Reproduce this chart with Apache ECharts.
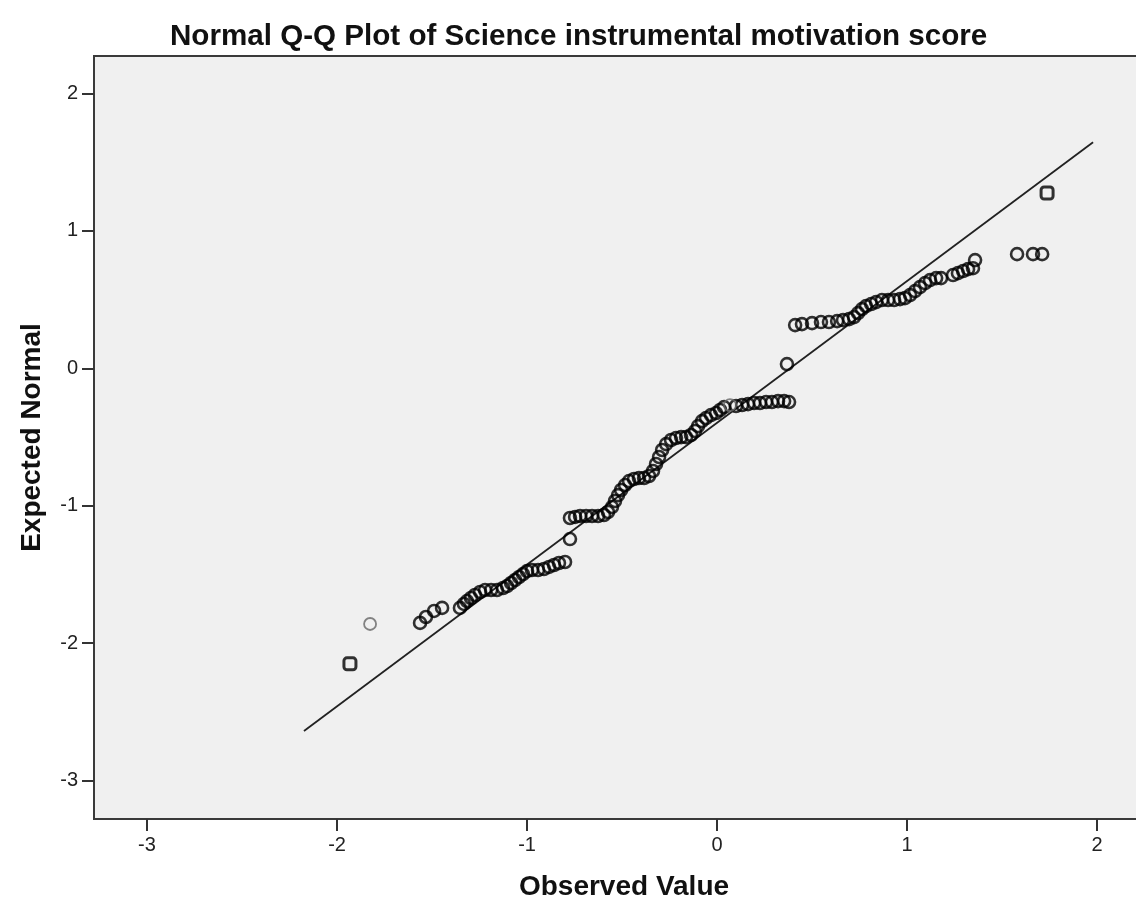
<!DOCTYPE html>
<html>
<head>
<meta charset="utf-8">
<script src="https://cdn.jsdelivr.net/npm/echarts@6/dist/echarts.min.js"></script>
<style>
  html, body { margin: 0; padding: 0; background: #ffffff; }
  #chart { width: 1136px; height: 900px; }
</style>
</head>
<body>
<div id="chart"></div>
<script>
// Observed standardized scores and their expected normal quantiles
const observed = [
  -1.563, -1.532, -1.489, -1.447,
  -1.353, -1.332, -1.316, -1.295, -1.274, -1.247, -1.221, -1.189, -1.158, -1.126,
  -1.105, -1.084, -1.063, -1.042, -1.021, -1.000, -0.974, -0.942, -0.911, -0.884,
  -0.858, -0.832, -0.800,
  -0.774,
  -0.774, -0.747, -0.721, -0.689, -0.658, -0.626, -0.595, -0.574,
  -0.553, -0.537, -0.521, -0.505, -0.484, -0.463, -0.437, -0.411, -0.384, -0.358,
  -0.337, -0.321, -0.305, -0.289, -0.268, -0.242, -0.216, -0.189, -0.163, -0.137,
  -0.116, -0.100, -0.079, -0.058, -0.032, -0.005, 0.016, 0.037,
  0.100, 0.132, 0.163, 0.195, 0.226, 0.258, 0.289, 0.321, 0.353, 0.379,
  0.368,
  0.411, 0.447, 0.500, 0.547, 0.589, 0.632, 0.663, 0.695, 0.721, 0.742, 0.763,
  0.784, 0.811, 0.837, 0.868, 0.900, 0.932, 0.963, 0.989, 1.016, 1.042, 1.068,
  1.095, 1.121, 1.153, 1.179, 1.242, 1.268, 1.295, 1.321, 1.347, 1.358,
  1.579, 1.663, 1.711
];
const expected = [
  -1.852, -1.809, -1.765, -1.743,
  -1.743, -1.714, -1.693, -1.671, -1.649, -1.627, -1.613, -1.613, -1.613, -1.598,
  -1.584, -1.562, -1.540, -1.518, -1.497, -1.475, -1.467, -1.467, -1.460, -1.445,
  -1.431, -1.416, -1.409,
  -1.242,
  -1.089, -1.081, -1.074, -1.074, -1.074, -1.074, -1.067, -1.045,
  -1.009, -0.965, -0.922, -0.885, -0.849, -0.820, -0.805, -0.798, -0.798, -0.783,
  -0.747, -0.696, -0.645, -0.594, -0.551, -0.521, -0.507, -0.500, -0.500, -0.485,
  -0.456, -0.420, -0.384, -0.362, -0.340, -0.325, -0.303, -0.282,
  -0.274, -0.267, -0.260, -0.252, -0.252, -0.245, -0.245, -0.238, -0.238, -0.245,
  0.031,
  0.315, 0.322, 0.329, 0.337, 0.337, 0.344, 0.351, 0.358, 0.373, 0.402, 0.431,
  0.453, 0.468, 0.482, 0.497, 0.497, 0.497, 0.504, 0.511, 0.533, 0.562, 0.591,
  0.620, 0.642, 0.657, 0.657, 0.679, 0.693, 0.708, 0.722, 0.729, 0.788,
  0.831, 0.831, 0.831
];

// Points drawn in a lighter tone
const faintObserved = [-1.826, 0.068];
const faintExpected = [-1.860, -0.267];

// Heavily tied values at the two extremes
const tiedObserved = [-1.932, 1.737];
const tiedExpected = [-2.150, 1.276];

// Reference line endpoints
const lineObserved = [-2.174, 1.979];
const lineExpected = [-2.638, 1.646];

const tickValues = [-3, -2, -1, 0, 1, 2];

const zip = (xs, ys) => xs.map((x, i) => [x, ys[i]]);

const FONT = "'Liberation Sans', Arial, sans-serif";

const chart = echarts.init(document.getElementById('chart'), null, { renderer: 'canvas' });

chart.setOption({
  animation: false,
  backgroundColor: '#ffffff',
  title: {
    text: 'Normal Q-Q Plot of Science instrumental motivation score',
    left: 170,
    top: 22,
    padding: 0,
    textStyle: { fontFamily: FONT, fontSize: 29.6, fontWeight: 'bold', color: '#111' }
  },
  grid: {
    left: 94, top: 56, right: -4, bottom: 81,
    outerBoundsMode: 'none',
    containLabel: false,
    show: true,
    backgroundColor: '#f0f0f0',
    borderColor: '#3a3a3a',
    borderWidth: 2
  },
  xAxis: {
    type: 'value',
    min: -3.279, max: 2.226,
    name: 'Observed Value',
    nameLocation: 'middle',
    nameGap: 54,
    nameTextStyle: { fontFamily: FONT, fontSize: 28, fontWeight: 'bold', color: '#111', padding: [0, 0, 0, 14] },
    axisLine: { show: false, onZero: false },
    splitLine: { show: false },
    axisTick: { show: true, length: 12, customValues: tickValues, lineStyle: { color: '#333', width: 2 } },
    axisLabel: { customValues: tickValues, fontFamily: FONT, fontSize: 20, color: '#222', margin: 16 }
  },
  yAxis: {
    type: 'value',
    min: -3.279, max: 2.273,
    name: 'Expected Normal',
    nameLocation: 'middle',
    nameGap: 48,
    nameTextStyle: { fontFamily: FONT, fontSize: 28, fontWeight: 'bold', color: '#111' },
    axisLine: { show: false, onZero: false },
    splitLine: { show: false },
    axisTick: { show: true, length: 12, customValues: tickValues, lineStyle: { color: '#333', width: 2 } },
    axisLabel: { customValues: tickValues, fontFamily: FONT, fontSize: 20, color: '#222', margin: 16 }
  },
  series: [
    {
      type: 'line',
      data: zip(lineObserved, lineExpected),
      showSymbol: false,
      symbol: 'none',
      lineStyle: { color: '#222', width: 1.8 },
      z: 2
    },
    {
      type: 'scatter',
      data: zip(observed, expected),
      symbol: 'circle',
      symbolSize: 12,
      itemStyle: { color: 'rgba(0,0,0,0)', borderColor: '#000', borderWidth: 2.6 },
      z: 3
    },
    {
      type: 'scatter',
      data: zip(faintObserved, faintExpected),
      symbol: 'circle',
      symbolSize: 12,
      itemStyle: { color: 'rgba(0,0,0,0)', borderColor: '#666', borderWidth: 1.8 },
      z: 3
    },
    {
      type: 'scatter',
      data: zip(tiedObserved, tiedExpected),
      symbol: 'roundRect',
      symbolSize: 12,
      itemStyle: { color: 'rgba(0,0,0,0)', borderColor: '#000', borderWidth: 3 },
      z: 3
    }
  ]
});
</script>
</body>
</html>
